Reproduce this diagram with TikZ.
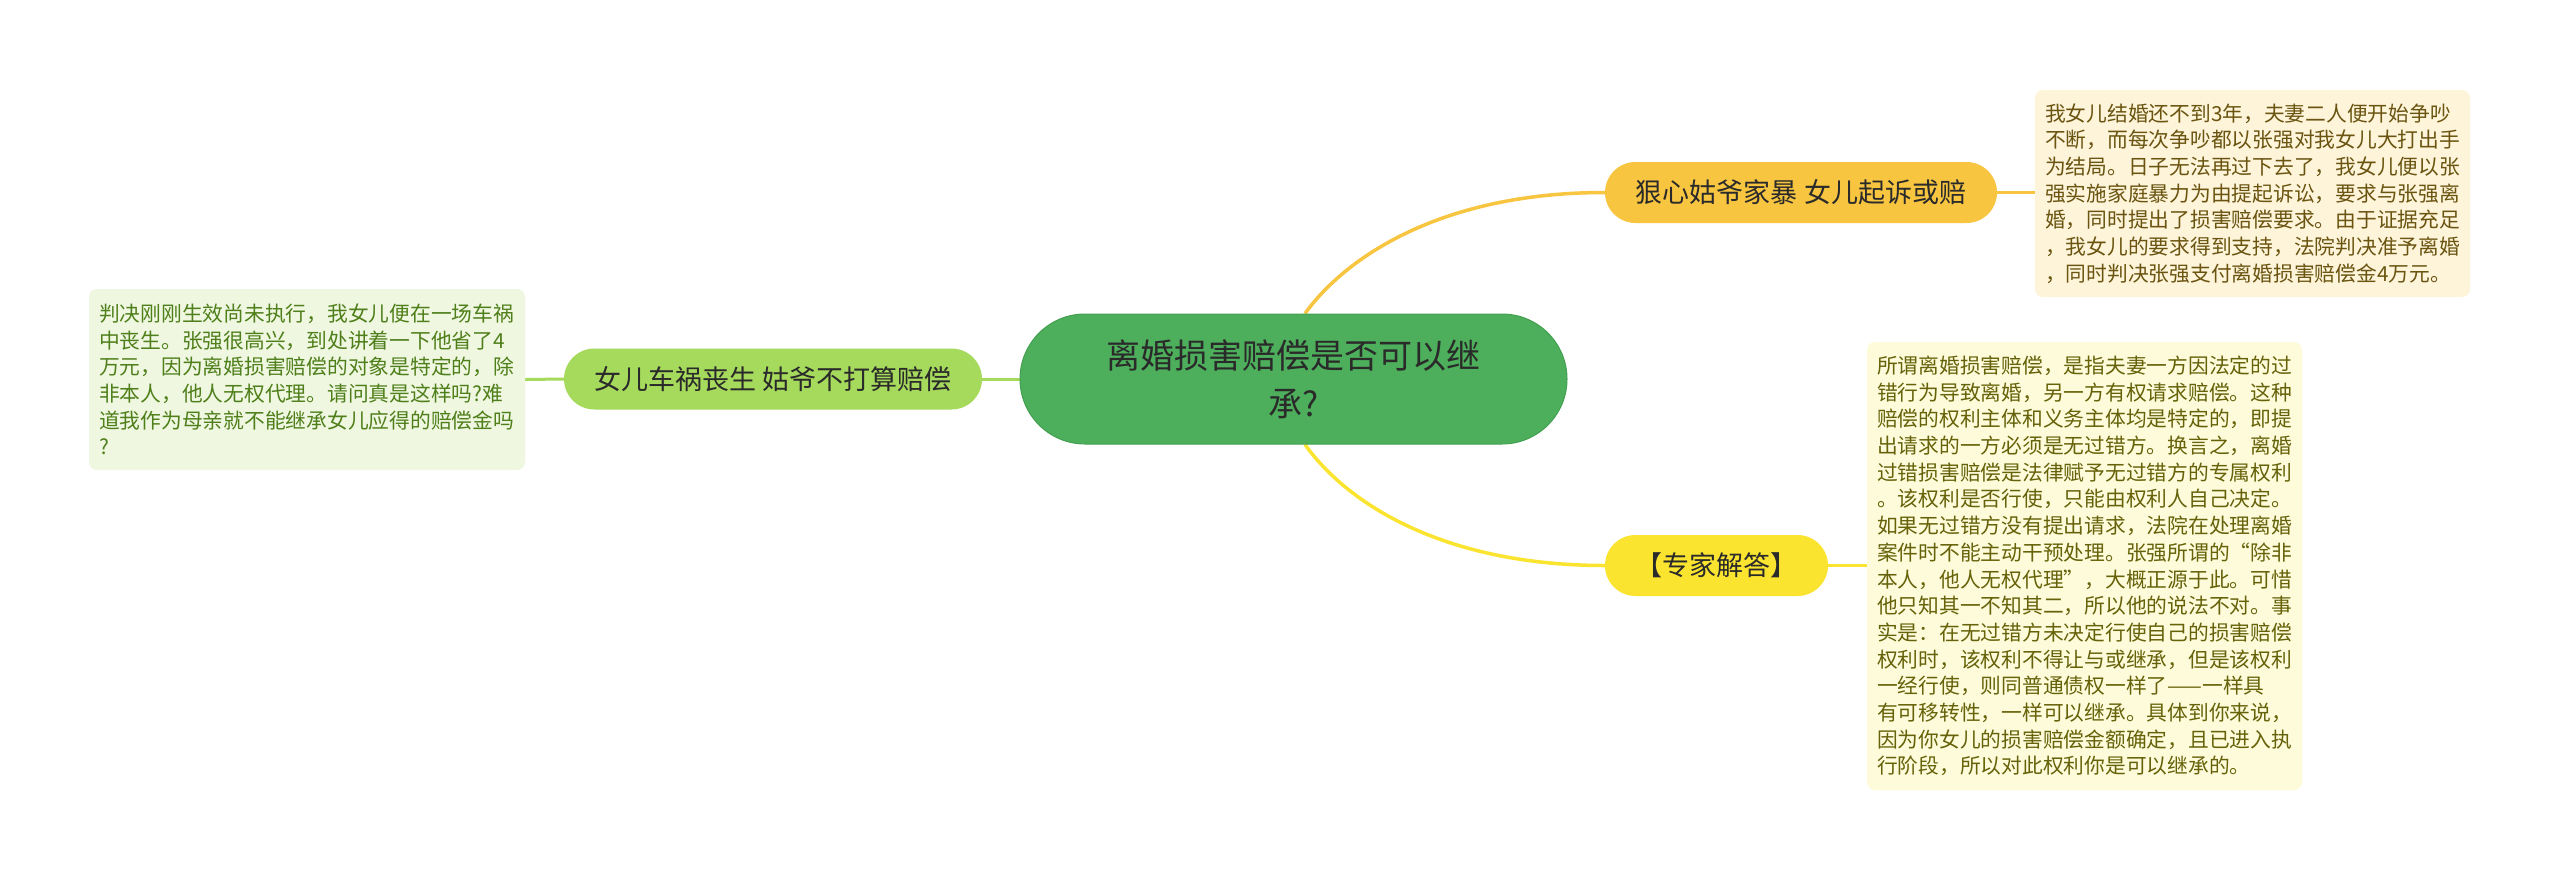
\documentclass[tikz,border=0pt]{standalone}
\usepackage{fontspec}
\setmainfont{Noto Sans CJK SC}
\usetikzlibrary{backgrounds}
\definecolor{cgreen}{HTML}{4DAE5B}
\definecolor{cgreendark}{HTML}{43A051}
\definecolor{lgreen}{HTML}{A6DA5C}
\definecolor{gold}{HTML}{F8C540}
\definecolor{yel}{HTML}{FAE430}
\definecolor{darktxt}{HTML}{2A2A2A}
\definecolor{trfill}{HTML}{FDF4DA}
\definecolor{trtext}{HTML}{6A5410}
\definecolor{brfill}{HTML}{FEFBDA}
\definecolor{brtext}{HTML}{66620A}
\definecolor{lfill}{HTML}{EFF7E0}
\definecolor{ltext}{HTML}{4F7F1A}
\begin{document}
\begin{tikzpicture}[x=1pt,y=-1pt,
  pillnode/.style={rounded corners=30.5pt, inner sep=0pt, minimum height=61pt, text=darktxt, font=\fontsize{27}{32}\selectfont},
  tbox/.style={rounded corners=8pt, text width=415pt, inner xsep=10pt, inner ysep=0pt, align=left, font=\fontsize{20.75}{26.7}\selectfont},
  conn/.style={line width=3.5pt}]
\useasboundingbox (0,0) rectangle (2560,879);
\node[fill=cgreen, draw=cgreendark, line width=1pt, rounded corners=65pt, minimum width=547pt, minimum height=130pt, inner sep=0pt, text=darktxt, align=center, font=\fontsize{34}{48}\selectfont] (c) at (1293.5,379) {离婚损害赔偿是否可以继\\承?};
\node[pillnode, fill=lgreen, minimum width=418pt] (lb) at (773,379) {女儿车祸丧生 姑爷不打算赔偿};
\node[pillnode, fill=gold, minimum width=392pt] (tb) at (1801,192.5) {狠心姑爷家暴 女儿起诉或赔};
\node[pillnode, fill=yel, minimum width=223pt] (bb) at (1716.5,565.5) {【专家解答】};
\node[tbox, fill=trfill, text=trtext, minimum height=207pt] (trb) at (2252.5,193.5) {我女儿结婚还不到3年，夫妻二人便开始争吵\\
不断，而每次争吵都以张强对我女儿大打出手\\
为结局。日子无法再过下去了，我女儿便以张\\
强实施家庭暴力为由提起诉讼，要求与张强离\\
婚，同时提出了损害赔偿要求。由于证据充足\\
，我女儿的要求得到支持，法院判决准予离婚\\
，同时判决张强支付离婚损害赔偿金4万元。};
\node[tbox, fill=brfill, text=brtext, minimum height=448pt] (brb) at (2084.5,566) {所谓离婚损害赔偿，是指夫妻一方因法定的过\\
错行为导致离婚，另一方有权请求赔偿。这种\\
赔偿的权利主体和义务主体均是特定的，即提\\
出请求的一方必须是无过错方。换言之，离婚\\
过错损害赔偿是法律赋予无过错方的专属权利\\
。该权利是否行使，只能由权利人自己决定。\\
如果无过错方没有提出请求，法院在处理离婚\\
案件时不能主动干预处理。张强所谓的“除非\\
本人，他人无权代理”，大概正源于此。可惜\\
他只知其一不知其二，所以他的说法不对。事\\
实是：在无过错方未决定行使自己的损害赔偿\\
权利时，该权利不得让与或继承，但是该权利\\
一经行使，则同普通债权一样了——一样具\\
有可移转性，一样可以继承。具体到你来说，\\
因为你女儿的损害赔偿金额确定，且已进入执\\
行阶段，所以对此权利你是可以继承的。};
\node[tbox, fill=lfill, text=ltext, text width=416pt, minimum height=181pt] (lbx) at (307,379.5) {判决刚刚生效尚未执行，我女儿便在一场车祸\\
中丧生。张强很高兴，到处讲着一下他省了4\\
万元，因为离婚损害赔偿的对象是特定的，除\\
非本人，他人无权代理。请问真是这样吗?难\\
道我作为母亲就不能继承女儿应得的赔偿金吗\\
?};
\begin{scope}[on background layer]
\fill[white] (0,0) rectangle (2560,879);
\draw[conn, lgreen, line width=3pt] (c.west) -- (lb.east);
\draw[conn, lgreen, line width=3pt] (lb.west) -- (lbx.east);
\draw[conn, gold] ([xshift=11.5pt]c.north) .. controls (1345,258) and (1440,192.5) .. (tb.west);
\draw[conn, gold] (tb.east) -- (tb.east -| trb.west);
\draw[conn, yel] ([xshift=11.5pt]c.south) .. controls (1345,501) and (1440,565.5) .. (bb.west);
\draw[conn, yel] (bb.east) -- (bb.east -| brb.west);
\end{scope}
\end{tikzpicture}
\end{document}
